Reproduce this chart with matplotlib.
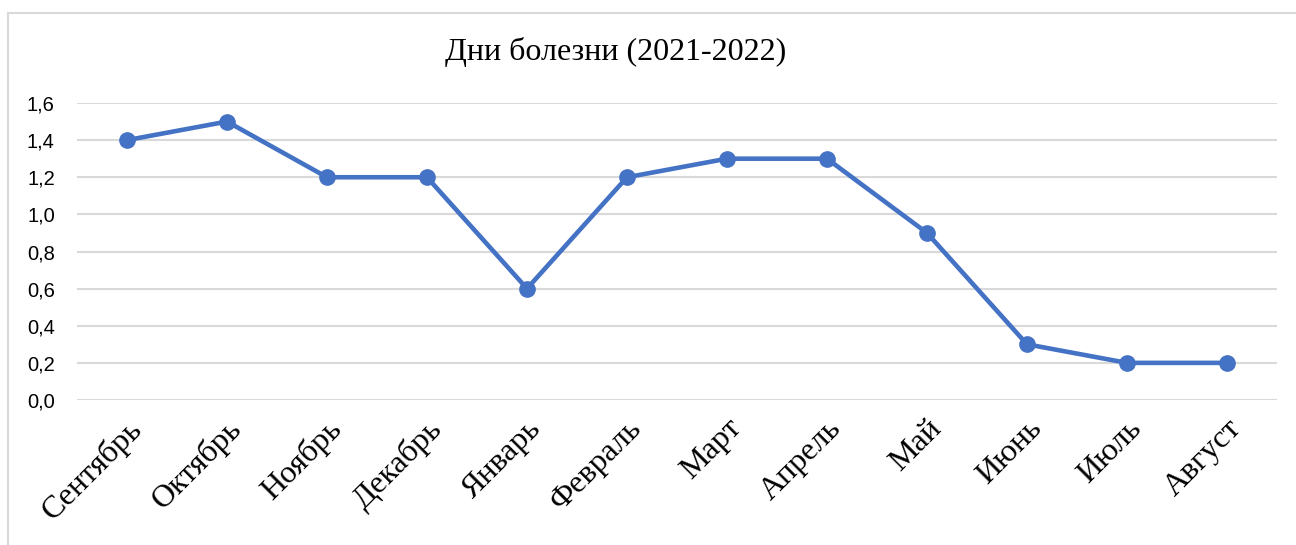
import matplotlib
matplotlib.use('Agg')
import matplotlib.pyplot as plt
from matplotlib.patches import Rectangle
import numpy as np

MONTHS = ['Сентябрь', 'Октябрь', 'Ноябрь', 'Декабрь', 'Январь', 'Февраль',
          'Март', 'Апрель', 'Май', 'Июнь', 'Июль', 'Август']
DAYS = [1.4, 1.5, 1.2, 1.2, 0.6, 1.2, 1.3, 1.3, 0.9, 0.3, 0.2, 0.2]
YTICKS = [0.0, 0.2, 0.4, 0.6, 0.8, 1.0, 1.2, 1.4, 1.6]
TITLE = 'Дни болезни (2021-2022)'

SERIF = ['Liberation Serif', 'DejaVu Serif']
SANS = ['Liberation Sans', 'DejaVu Sans']

fig = plt.figure(figsize=(12.96, 5.45), dpi=100)
W, H = 1296, 545

# chart frame (partly cut off at right / bottom)
fig.patches.append(Rectangle((8 / W, -0.1), 1.2, 1 - 13 / H + 0.1,
                             transform=fig.transFigure, fill=False,
                             edgecolor='#d9d9d9', linewidth=1.5))

ax = fig.add_axes([77 / W, 1 - 400 / H, 1200 / W, 297 / H])
ind = np.arange(len(MONTHS))
ax.plot(ind, DAYS, color='#4472C4', linewidth=3.3, marker='o', markersize=11,
        solid_capstyle='round', zorder=3)

ax.set_xlim(-0.5, len(MONTHS) - 0.5)
ax.set_ylim(0, 1.6)
ax.set_yticks(YTICKS)
ax.set_yticklabels([('%.1f' % v).replace('.', ',') for v in YTICKS],
                   fontsize=14.5, family=SANS)
ax.set_xticks(ind)
ax.set_xticklabels(MONTHS, rotation=45, ha='right', va='top',
                   rotation_mode='anchor', fontsize=23, family=SERIF)
ax.tick_params(axis='both', length=0)
ax.tick_params(axis='y', pad=16)
ax.tick_params(axis='x', pad=10)
ax.grid(axis='y', color='#d9d9d9', linewidth=1.5)
ax.set_axisbelow(True)
for s in ax.spines.values():
    s.set_visible(False)

fig.text(616 / W, 1 - 52 / H, TITLE, ha='center', va='center',
         fontsize=23, family=SERIF)

fig.savefig('out.png', dpi=100)
